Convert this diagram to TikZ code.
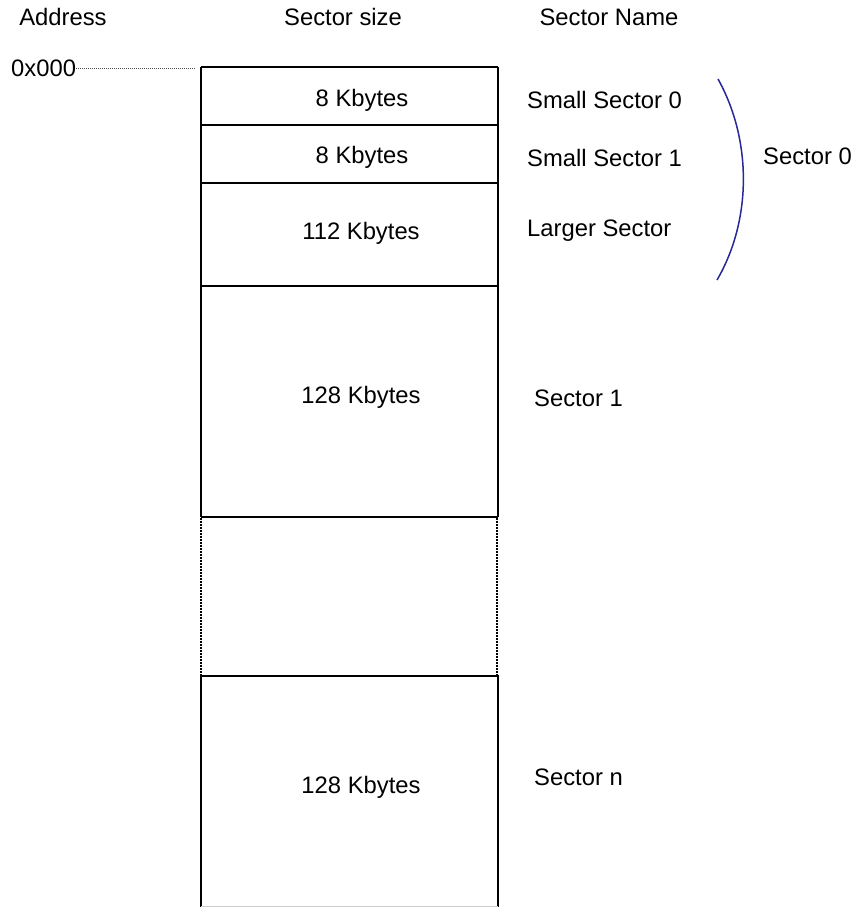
\documentclass[tikz,border=0pt]{standalone}
\usepackage{fontspec}
\setmainfont{Liberation Sans}
\begin{document}
\begin{tikzpicture}[x=1pt,y=-1pt,
  lbl/.style={font=\fontsize{23.8}{27}\selectfont, inner sep=0pt, anchor=base},
  namelbl/.style={lbl, anchor=base west},
  solidedge/.style={line width=2pt, black},
  dotedge/.style={line width=1.5pt, black, dash pattern=on 1.5pt off 1.5pt},
  addrdot/.style={line width=0.6pt, black!70, dash pattern=on 1pt off 1pt}]
\useasboundingbox (0,0) rectangle (854,907);
% headers
\node[lbl] (hAddr) at (63,26) {Address};
\node[lbl] (hSize) at (343,26) {Sector size};
\node[lbl] (hName) at (609,26) {Sector Name};
% address
\node[namelbl] (addr) at (11,76) {0x000};
\coordinate (addrEnd) at (195,68);
\draw[addrdot] (addr.east |- addrEnd) -- (addrEnd);
% boxes
\draw[solidedge] (201,67) -- (498,67);
\draw[solidedge] (201,125) -- (498,125);
\draw[solidedge] (201,183) -- (498,183);
\draw[solidedge] (201,286) -- (498,286);
\draw[solidedge] (201,517) -- (498,517);
\draw[solidedge] (201,67) -- (201,517);
\draw[solidedge] (498,67) -- (498,517);
\draw[dotedge] (201,518) -- (201,675);
\draw[dotedge] (497,518) -- (497,675);
\draw[solidedge] (201,907) -- (201,676) -- (498,676) -- (498,907);
\draw[line width=1pt, black!20] (201,906.5) -- (498,906.5);
% sizes
\node[lbl] (s0) at (362,106) {8 Kbytes};
\node[lbl] (s1) at (362,163) {8 Kbytes};
\node[lbl] (s2) at (361,239) {112 Kbytes};
\node[lbl] (s3) at (361,403) {128 Kbytes};
\node[lbl] (s4) at (361,793) {128 Kbytes};
% names
\node[namelbl] (n0) at (527,108) {Small Sector 0};
\node[namelbl] (n1) at (527,166) {Small Sector 1};
\node[namelbl] (n2) at (527,236) {Larger Sector};
\node[namelbl] (n3) at (534,406) {Sector 1};
\node[namelbl] (n4) at (534,785) {Sector n};
\node[namelbl] (g0) at (763,164) {Sector 0};
% brace arc
\coordinate (arcTop) at (718,79);
\coordinate (arcBot) at (717,280);
\draw[line width=1.5pt, color={rgb,255:red,40;green,40;blue,150}]
  (arcTop) .. controls (752,140) and (752,220) .. (arcBot);
\end{tikzpicture}
\end{document}
